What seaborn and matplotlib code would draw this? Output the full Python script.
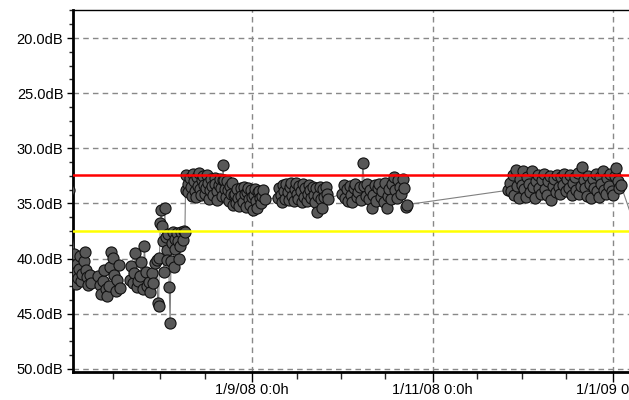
import pandas as pd
import seaborn as sns
import matplotlib.pyplot as plt
import matplotlib.dates as mdates
import matplotlib.ticker as mticker

# Noise level readings (dB) against days since 1 Jul 2008
start = pd.Timestamp('2008-07-01')

# one reading just left of the visible range
days_pre = [0.2]
vals_pre = [33.8]

# early July
days_a = [1.7, 2.0, 2.4, 2.8, 3.1, 3.5, 3.9, 4.3, 4.7, 5.1, 5.5, 5.9, 6.3, 6.7, 7.1, 7.6]
vals_a = [39.6, 41.2, 42.3, 40.5, 41.8, 40.9, 39.8, 42.0, 41.4, 40.2, 39.4, 41.0, 41.7, 42.4, 41.5, 42.2]

# mid July
days_b = [10.0, 10.5, 11.0, 11.5, 12.0, 12.5, 13.0, 13.5, 14.0, 14.5, 15.0, 15.5, 16.0, 16.5, 17.0, 17.4]
vals_b = [41.6, 42.4, 43.2, 42.0, 41.0, 42.8, 43.4, 42.5, 40.8, 39.4, 39.9, 41.5, 42.9, 41.9, 40.6, 42.7]

# late July
days_c = [20.6, 21.1, 21.6, 22.1, 22.6, 23.1, 23.6, 24.1, 24.6, 25.1, 25.6, 26.1, 26.6, 27.1, 27.6,
          28.1, 28.6, 29.1]
vals_c = [41.9, 40.7, 42.2, 41.3, 39.5, 42.6, 42.0, 41.6, 40.3, 42.8, 38.9, 41.2, 42.5, 42.1, 43.0,
          41.3, 42.2, 40.4]

# early August, unsettled
days_d = [29.8, 30.1, 30.4, 30.7, 31.0, 31.3, 31.6, 31.9, 32.2, 32.5, 32.8, 33.1, 33.4, 33.7, 34.0,
          34.3, 34.6, 34.9, 35.2, 35.5, 35.8, 36.1, 36.5, 36.9, 37.3, 37.7, 38.1, 38.5, 38.9, 39.3]
vals_d = [40.1, 44.0, 44.3, 39.9, 36.8, 35.6, 37.0, 38.4, 41.2, 35.4, 38.0, 39.2, 40.1, 37.8, 42.6,
          45.8, 40.2, 38.6, 37.6, 40.8, 38.2, 39.1, 37.7, 38.4, 40.0, 38.9, 37.6, 38.3, 37.5, 37.6]

# August
days_e = [39.5, 39.8, 40.2, 40.5, 40.9, 41.2, 41.6, 41.9, 42.3, 42.6, 43.0, 43.3, 43.7, 44.0, 44.4,
          44.7, 45.1, 45.4, 45.8, 46.1, 46.5, 46.8, 47.2, 47.5, 47.9, 48.2, 48.6, 48.9, 49.3, 49.6,
          50.0, 50.3, 50.7, 51.0, 51.4, 51.7, 52.1, 52.2, 52.4, 52.8, 53.1, 53.5, 53.8, 54.2, 54.5,
          54.9, 55.2, 55.6, 56.0]
vals_e = [33.8, 32.4, 33.2, 34.0, 32.7, 33.5, 34.3, 32.3, 33.0, 33.9, 34.4, 32.6, 33.4, 32.2, 33.7,
          34.2, 32.9, 32.5, 33.3, 34.1, 33.6, 32.4, 33.1, 34.6, 33.8, 32.8, 33.4, 34.2, 32.7, 33.2,
          33.9, 34.7, 33.3, 32.8, 33.6, 34.3, 32.9, 31.5, 32.9, 33.7, 34.4, 33.0, 33.8, 34.8, 33.4,
          34.1, 33.1, 35.1, 34.2]

# late August / early September
days_f = [56.3, 56.7, 57.0, 57.4, 57.7, 58.1, 58.4, 58.8, 59.1, 59.5, 59.8, 60.2, 60.5, 60.9, 61.2,
          61.6, 61.9, 62.3, 62.6, 63.0, 63.3, 63.7, 64.0, 64.4, 64.7, 65.1, 65.4, 65.8, 66.2]
vals_f = [34.1, 35.0, 33.7, 34.5, 35.2, 33.6, 34.3, 34.9, 33.5, 34.1, 35.3, 34.0, 33.6, 34.6, 35.1,
          33.8, 34.4, 35.6, 34.2, 33.7, 34.8, 35.4, 34.0, 33.9, 34.5, 35.0, 34.3, 33.8, 34.6]

# September
days_g = [70.8, 71.2, 71.6, 72.0, 72.4, 72.8, 73.2, 73.6, 74.0, 74.4, 74.8, 75.2, 75.6, 76.0, 76.4,
          76.8, 77.2, 77.6, 78.0, 78.4, 78.8, 79.2, 79.6, 80.0, 80.4, 80.8, 81.2, 81.6, 82.0, 82.4,
          82.8, 83.2, 83.6, 84.0, 84.4, 84.8, 85.2, 85.6, 86.0, 86.4, 86.8, 87.2, 87.6]
vals_g = [34.5, 33.6, 34.2, 34.9, 33.3, 33.9, 34.6, 33.2, 34.0, 34.7, 33.5, 33.1, 34.3, 34.8, 33.7,
          33.1, 34.1, 34.6, 33.4, 33.9, 34.9, 33.2, 34.4, 33.6, 34.8, 34.1, 33.3, 33.8, 34.5, 33.5,
          34.2, 34.9, 33.6, 35.8, 34.3, 33.5, 34.6, 35.4, 33.7, 34.4, 33.5, 34.1, 34.6]

# October
days_h = [92.4, 92.9, 93.4, 93.9, 94.4, 94.9, 95.4, 95.9, 96.4, 96.9, 97.4, 97.9, 98.4, 98.9, 99.4,
          99.9, 100.4, 100.9, 101.4, 101.9, 102.4, 102.9, 103.4, 103.9, 104.4, 104.9, 105.4, 105.9,
          106.4, 106.9, 107.4, 107.9, 108.4, 108.9, 109.4, 109.9, 110.4, 110.9, 111.4, 111.9, 112.4,
          112.9, 113.4, 113.9, 114.4]
vals_h = [34.1, 33.3, 34.5, 33.7, 34.8, 33.4, 34.2, 34.9, 33.6, 33.2, 34.4, 34.0, 33.5, 34.7, 31.3,
          33.4, 34.3, 33.2, 34.6, 33.8, 35.4, 34.2, 33.3, 34.8, 33.6, 33.2, 34.4, 33.9,
          34.9, 33.1, 35.4, 34.3, 33.7, 34.6, 33.2, 32.6, 33.8, 34.5, 32.9, 33.5, 34.1,
          32.8, 33.6, 35.3, 35.1]

# late November - December
days_i = [148.5, 149.0, 149.5, 150.0, 150.5, 151.0, 151.5, 152.0, 152.5, 153.0,
          153.5, 154.0, 154.5, 155.0, 155.5, 156.0, 156.5, 157.0, 157.5, 158.0,
          158.5, 159.0, 159.5, 160.0, 160.5, 161.0, 161.5, 162.0, 162.5, 163.0,
          163.5, 164.0, 164.5, 165.0, 165.5, 166.0, 166.5, 167.0, 167.5, 168.0,
          168.5, 169.0, 169.5, 170.0, 170.5, 171.0, 171.5, 172.0, 172.5, 173.0,
          173.5, 174.0, 174.5, 175.0, 175.5, 176.0, 176.5, 177.0, 177.5, 178.0,
          178.5, 179.0, 179.5, 180.0, 180.5, 181.0, 181.5, 182.0, 182.5, 183.0,
          183.5, 184.0, 184.5, 185.0, 185.5, 186.0, 186.5]
vals_i = [33.8, 33.1, 33.9, 32.4, 34.2, 32.0, 33.4, 34.5, 32.8, 33.3,
          32.1, 33.7, 34.4, 32.6, 33.2, 34.0, 32.1, 33.5, 34.5, 33.0,
          32.4, 33.6, 34.1, 32.9, 32.3, 33.7, 34.2, 33.0, 32.5, 34.7,
          33.4, 32.8, 34.0, 32.4, 33.5, 34.1, 32.6, 33.3, 32.3, 33.9,
          32.8, 33.6, 32.4, 34.2, 33.1, 32.6, 33.8, 32.2, 34.1, 33.4,
          31.7, 32.9, 33.6, 34.3, 32.5, 33.2, 34.5, 32.8, 33.6, 32.3,
          33.9, 34.4, 32.6, 33.2, 32.1, 33.8, 34.1, 32.7, 33.4, 32.3,
          33.9, 34.2, 32.5, 31.8, 33.0, 33.6, 33.3]

# first reading past the visible range
days_post = [192.0]
vals_post = [37.6]

upper_limit = 32.4
lower_limit = 37.5

days = days_pre + days_a + days_b + days_c + days_d + days_e + days_f + days_g + days_h + days_i + days_post
vals = vals_pre + vals_a + vals_b + vals_c + vals_d + vals_e + vals_f + vals_g + vals_h + vals_i + vals_post

df = pd.DataFrame({'Date': start + pd.to_timedelta(days, unit='D'), 'dB': vals})

sns.set_style('white')
plt.rcParams['font.family'] = ['Liberation Sans', 'DejaVu Sans']

fig = plt.figure(figsize=(6.29, 4.0), dpi=100)
ax = fig.add_axes([73 / 629, 28 / 400, 1 - 73 / 629, 362 / 400])

sns.lineplot(data=df, x='Date', y='dB', sort=False, estimator=None, ax=ax,
             color='#808080', linewidth=0.8, marker='o', markersize=8,
             markerfacecolor='#585858', markeredgecolor='#111111', markeredgewidth=0.8,
             zorder=3)

ax.axhline(upper_limit, color='#ff0000', linewidth=1.8, zorder=4)
ax.axhline(lower_limit, color='#ffff00', linewidth=1.8, zorder=4)

# axes limits (y inverted)
ax.set_xlim(start + pd.Timedelta(days=1.5), start + pd.Timedelta(days=189.3))
ax.set_ylim(50.28, 17.46)

# y ticks
ax.yaxis.set_major_locator(mticker.MultipleLocator(5))
ax.yaxis.set_minor_locator(mticker.MultipleLocator(1.25))
ax.yaxis.set_major_formatter(mticker.FuncFormatter(lambda v, p: '{:.1f}dB'.format(v)))

# x ticks
ax.xaxis.set_major_locator(mdates.MonthLocator(bymonth=[1, 3, 5, 7, 9, 11]))
ax.xaxis.set_minor_locator(mdates.DayLocator(bymonthday=[1, 16]))


def date_label(v, p):
    d = mdates.num2date(v)
    return '{}/{}/{} 0:0h'.format(d.day, d.month, d.strftime('%y'))


ax.xaxis.set_major_formatter(mticker.FuncFormatter(date_label))

ax.tick_params(axis='both', which='major', labelsize=10.5, colors='black', direction='out',
               width=1, left=True, bottom=True)
ax.tick_params(axis='y', which='major', length=4, pad=3)
ax.tick_params(axis='x', which='major', length=7, pad=1)
ax.tick_params(axis='y', which='minor', length=3, width=1, left=True)
ax.tick_params(axis='x', which='minor', length=5, width=1, bottom=True)

ax.set_xlabel('')
ax.set_ylabel('')

# dashed grid
ax.grid(True, which='major', color='#888888', linestyle=(0, (4, 3)), linewidth=1)
ax.set_axisbelow(True)

ax.spines['left'].set_linewidth(2)
ax.spines['bottom'].set_linewidth(2)
ax.spines['top'].set_linewidth(1)
ax.spines['right'].set_visible(False)
for s in ['left', 'bottom', 'top']:
    ax.spines[s].set_color('black')

fig.savefig('out.png', dpi=100)
